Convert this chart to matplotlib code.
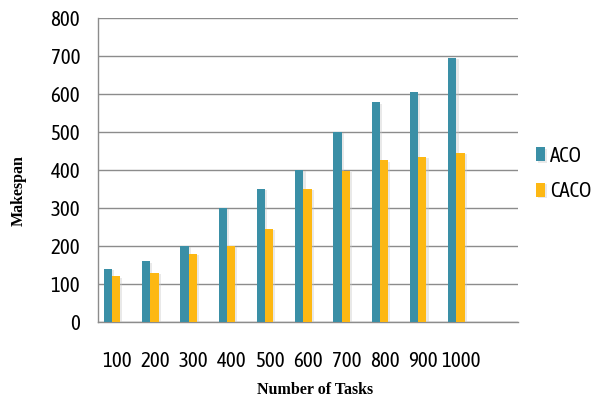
import numpy as np
import matplotlib
matplotlib.use('Agg')
import matplotlib.pyplot as plt
import matplotlib.patheffects as pe
from matplotlib import font_manager

tasks = ['100', '200', '300', '400', '500', '600', '700', '800', '900', '1000']
aco = [140, 160, 200, 300, 350, 400, 500, 578, 605, 695]
caco = [120, 130, 180, 200, 245, 350, 398, 426, 435, 446]

teal = '#3a8fa6'
gold = '#fdb813'

# narrow humanist face if present, Lato otherwise
names = {f.name for f in font_manager.fontManager.ttflist}
tick_font = 'Lato'
for cand in ['Asap Condensed', 'Barlow Semi Condensed', 'Archivo Narrow']:
    if cand in names:
        tick_font = cand
        break

fig = plt.figure(figsize=(6.02, 4.01), dpi=100)
ax = fig.add_axes([0.163, 0.197, 0.697, 0.758])

x = np.arange(len(tasks))
w = 0.215
shadow = [pe.SimplePatchShadow(offset=(1.5, -1), shadow_rgbFace='#c8c8c8', alpha=0.4), pe.Normal()]
b1 = ax.bar(x - w / 2, aco, w, color=teal, label='ACO', zorder=3)
b2 = ax.bar(x + w / 2, caco, w, color=gold, label='CACO', zorder=3)
for b in list(b1) + list(b2):
    b.set_path_effects(shadow)

ax.set_xlim(-0.365, 10.6)
ax.set_ylim(0, 800)
ax.set_yticks(range(0, 801, 100))
ax.set_xticks(x + 0.12)
ax.set_xticklabels(tasks)
ax.yaxis.grid(True, color='#8c8c8c', linewidth=1, zorder=0)
ax.set_axisbelow(True)

for s in ['top', 'right']:
    ax.spines[s].set_visible(False)
for s in ['left', 'bottom']:
    ax.spines[s].set_color('#8c8c8c')
    ax.spines[s].set_linewidth(1)

ax.tick_params(axis='both', length=0, labelsize=15, colors='black')
ax.tick_params(axis='x', pad=21)
ax.tick_params(axis='y', pad=13)
for lab in ax.get_xticklabels() + ax.get_yticklabels():
    lab.set_family(tick_font)

ax.set_ylabel('Makespan', family='Liberation Serif', fontweight='bold', fontsize=11.5, va='center')
ax.yaxis.set_label_coords(-0.19, 0.434)
ax.set_xlabel('Number of Tasks', family='Liberation Serif', fontweight='bold', fontsize=11.5, va='center')
ax.xaxis.set_label_coords(0.517, -0.225)

leg = fig.legend(handles=[b1, b2], loc='upper left', bbox_to_anchor=(0.89, 0.637),
                 frameon=False, prop={'family': tick_font, 'size': 15},
                 handlelength=0.45, handleheight=0.65, handletextpad=0.25, labelspacing=0.75,
                 borderaxespad=0, borderpad=0)

fig.savefig('out.png', dpi=100)
